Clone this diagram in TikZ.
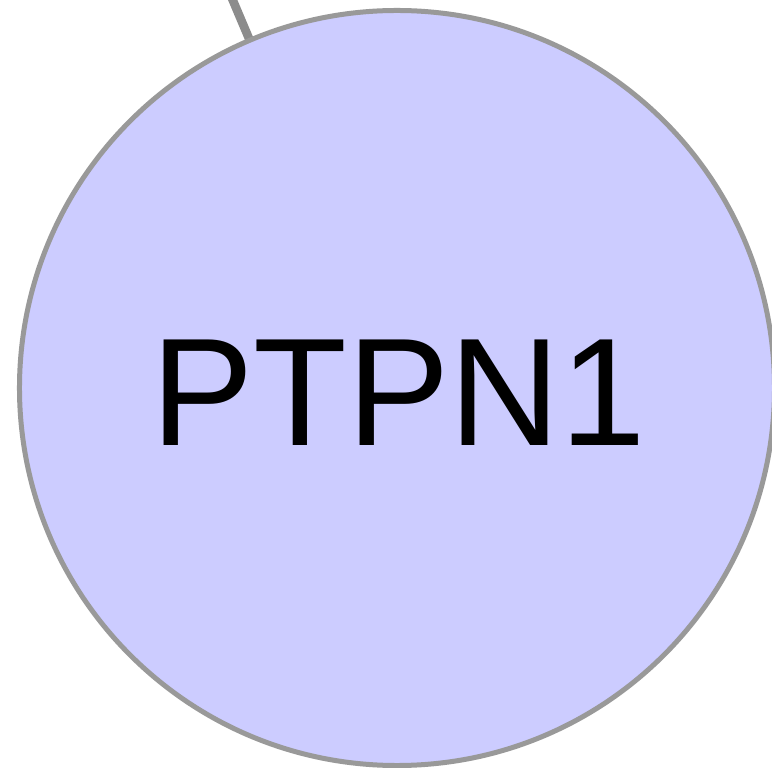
\documentclass[tikz,border=0pt]{standalone}
\usepackage{fontspec}
\setmainfont{Liberation Sans}
\usepackage{tikz}

\definecolor{nodefill}{HTML}{CCCCFF}
\definecolor{nodeline}{HTML}{999999}
\definecolor{edgeline}{HTML}{8C8C8C}

\tikzset{
  protein/.style={circle, fill=nodefill, draw=nodeline, line width=0.15cm,
    minimum size=22.65cm, inner sep=0pt, font=\fontsize{131}{131}\selectfont},
  link/.style={edgeline, line width=0.26cm, line cap=round}
}

\begin{document}
\begin{tikzpicture}[x=0.03cm, y=-0.03cm]
\useasboundingbox (0,0) rectangle (772,768);

\coordinate (partner) at (220,-30);
\draw[link] (partner) -- (397,388);
\node[protein] (ptpn1) at (397,388)
  {\hspace{0.1cm}\raisebox{-0.15cm}[\height][\depth]{PTPN1}};
\end{tikzpicture}
\end{document}
